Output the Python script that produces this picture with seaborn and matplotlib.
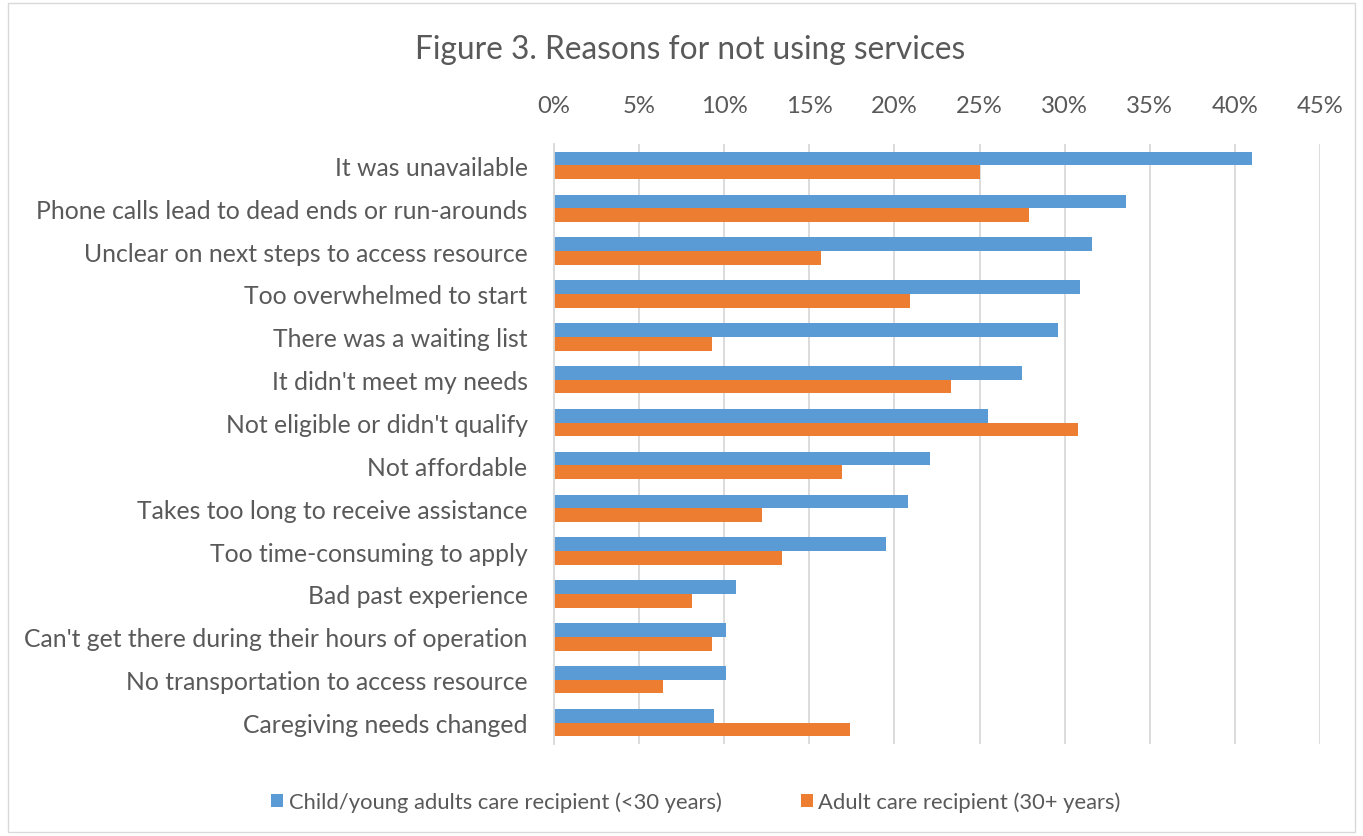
import matplotlib as mpl
mpl.use('Agg')
from matplotlib import pyplot as plt
from matplotlib.ticker import PercentFormatter, MultipleLocator
import pandas as pd
import seaborn as sb

categories = ["It was unavailable",
              "Phone calls lead to dead ends or run-arounds",
              "Unclear on next steps to access resource",
              "Too overwhelmed to start",
              "There was a waiting list",
              "It didn't meet my needs",
              "Not eligible or didn't qualify",
              "Not affordable",
              "Takes too long to receive assistance",
              "Too time-consuming to apply",
              "Bad past experience",
              "Can't get there during their hours of operation",
              "No transportation to access resource",
              "Caregiving needs changed"]
child = [41.0, 33.6, 31.6, 30.9, 29.6, 27.5, 25.5, 22.1, 20.8, 19.5, 10.7, 10.1, 10.1, 9.4]
adult = [25.0, 27.9, 15.7, 20.9, 9.3, 23.3, 30.8, 16.9, 12.2, 13.4, 8.1, 9.3, 6.4, 17.4]
series = ["Child/young adults care recipient (<30 years)", "Adult care recipient (30+ years)"]

df = pd.concat([
    pd.DataFrame({"reason": categories, "group": series[0], "pct": child}),
    pd.DataFrame({"reason": categories, "group": series[1], "pct": adult}),
])

sb.set_style("white")
plt.rcParams['font.family'] = ['Lato', 'DejaVu Sans']
grey = '#595959'

fig = plt.figure(figsize=(13.63, 8.37), dpi=100)
ax = fig.add_axes([554/1363, 1-745/837, (1320-554)/1363, 600/837])

sb.barplot(ax=ax, data=df, y="reason", x="pct", hue="group", order=categories,
           hue_order=series, palette=['#5B9BD5', '#ED7D31'], width=0.64,
           orient='h', saturation=1, linewidth=0)

ax.set_xlim(0, 45)
ax.xaxis.set_major_locator(MultipleLocator(5))
ax.xaxis.set_major_formatter(PercentFormatter(decimals=0))
ax.xaxis.tick_top()
ax.grid(axis='x', color='#D9D9D9', linewidth=1.3)
ax.set_axisbelow(True)
for s in ax.spines.values():
    s.set_visible(False)
ax.spines['left'].set_visible(True)
ax.spines['left'].set_color('#D9D9D9')
ax.spines['left'].set_linewidth(1.3)
ax.tick_params(axis='x', length=0, pad=20, labelsize=17.2, labelcolor=grey)
ax.tick_params(axis='y', length=0, pad=19, labelsize=17.8, labelcolor=grey)
ax.set_xlabel("")
ax.set_ylabel("")

fig.text(690/1363, 1-50/837, "Figure 3. Reasons for not using services",
         ha='center', va='center', fontsize=22.8, color=grey)

leg = ax.legend(loc='center', bbox_to_anchor=(696/1363, 1-803/837),
                bbox_transform=fig.transFigure, ncol=2, frameon=False,
                fontsize=15.8, handlelength=0.55, handleheight=0.55,
                handletextpad=0.25, columnspacing=3.6)
for t in leg.get_texts():
    t.set_color(grey)

fig.patches.append(mpl.patches.Rectangle((8/1363, 4/837), 1347/1363, 829/837,
                   transform=fig.transFigure, fill=False,
                   edgecolor='#D9D9D9', linewidth=1))

fig.savefig('out.png', format='png', dpi=100)
